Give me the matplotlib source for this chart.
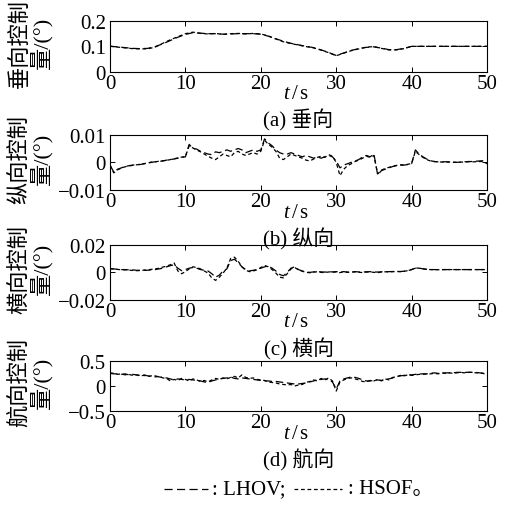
import numpy as np
import matplotlib
matplotlib.use("Agg")
import matplotlib.pyplot as plt
from matplotlib.lines import Line2D
from matplotlib.ticker import FixedLocator, FixedFormatter

# ---------------- data ----------------
t_a = np.arange(0, 51, 1.0)
t_fine = np.arange(0, 50.5, 0.5)

lhov_a = [0.100, 0.098, 0.095, 0.092, 0.091, 0.092, 0.099, 0.110, 0.123, 0.136,
          0.147, 0.154, 0.152, 0.150, 0.150, 0.148, 0.149, 0.150, 0.150, 0.150,
          0.148, 0.140, 0.130, 0.120, 0.112, 0.106, 0.100, 0.095, 0.086, 0.076,
          0.064, 0.074, 0.084, 0.091, 0.096, 0.098, 0.093, 0.087, 0.087, 0.092,
          0.100, 0.100, 0.100, 0.100, 0.100, 0.100, 0.100, 0.100, 0.100, 0.100, 0.100]
hsof_a = [0.101, 0.097, 0.094, 0.091, 0.090, 0.090, 0.097, 0.112, 0.126, 0.138,
          0.150, 0.156, 0.151, 0.149, 0.151, 0.147, 0.150, 0.151, 0.149, 0.151,
          0.149, 0.141, 0.129, 0.118, 0.111, 0.105, 0.099, 0.094, 0.085, 0.075,
          0.063, 0.073, 0.083, 0.090, 0.097, 0.099, 0.092, 0.086, 0.086, 0.091,
          0.100, 0.100, 0.100, 0.100, 0.100, 0.100, 0.100, 0.100, 0.100, 0.100, 0.100]

lhov_b = [-0.0010, -0.0035, -0.0025, -0.0020, -0.0015, -0.0012, -0.0010, -0.0008, -0.0008, -0.0005,
          -0.0003, 0.0000, 0.0002, 0.0003, 0.0005, 0.0008, 0.0010, 0.0012, 0.0015, 0.0018,
          0.0020, 0.0065, 0.0050, 0.0048, 0.0040, 0.0035, 0.0030, 0.0028, 0.0038, 0.0035,
          0.0040, 0.0045, 0.0040, 0.0045, 0.0050, 0.0045, 0.0035, 0.0040, 0.0045, 0.0040,
          0.0045, 0.0085, 0.0070, 0.0060, 0.0045, 0.0035, 0.0030, 0.0030, 0.0035, 0.0030,
          0.0025, 0.0020, 0.0025, 0.0020, 0.0015, 0.0020, 0.0015, 0.0020, 0.0025, 0.0020,
          0.0005, -0.0020, -0.0010, -0.0005, 0.0000, 0.0005, 0.0010, 0.0020, 0.0025, 0.0020,
          0.0030, -0.0045, -0.0030, -0.0025, -0.0020, -0.0015, -0.0012, -0.0010, -0.0010, -0.0008,
          -0.0005, 0.0045, 0.0030, 0.0020, 0.0012, 0.0006, 0.0003, 0.0002, 0.0002, 0.0002,
          0.0002, 0.0001, 0.0000, 0.0001, 0.0002, 0.0003, 0.0003, 0.0004, 0.0005, 0.0006,
          0.0008]
hsof_b = [-0.0010, -0.0038, -0.0027, -0.0021, -0.0016, -0.0013, -0.0011, -0.0009, -0.0007, -0.0005,
          -0.0002, 0.0001, 0.0002, 0.0004, 0.0006, 0.0007, 0.0010, 0.0013, 0.0016, 0.0019,
          0.0021, 0.0060, 0.0052, 0.0045, 0.0038, 0.0030, 0.0022, 0.0015, 0.0010, 0.0020,
          0.0030, 0.0025, 0.0020, 0.0035, 0.0040, 0.0030, 0.0025, 0.0030, 0.0035, 0.0030,
          0.0040, 0.0080, 0.0065, 0.0055, 0.0040, 0.0015, 0.0010, 0.0020, 0.0030, 0.0025,
          0.0020, 0.0015, 0.0008, 0.0005, 0.0012, 0.0018, 0.0022, 0.0018, 0.0028, 0.0022,
          0.0000, -0.0048, -0.0025, -0.0012, -0.0005, 0.0003, 0.0008, 0.0015, 0.0022, 0.0018,
          0.0025, -0.0042, -0.0028, -0.0022, -0.0018, -0.0014, -0.0011, -0.0009, -0.0009, -0.0007,
          -0.0004, 0.0040, 0.0028, 0.0018, 0.0010, 0.0005, 0.0003, 0.0002, 0.0001, 0.0001,
          0.0001, 0.0000, 0.0000, 0.0001, 0.0001, 0.0002, 0.0002, 0.0002, 0.0003, 0.0003,
          -0.0005]

lhov_c = [0.0025, 0.0025, 0.0022, 0.0020, 0.0020, 0.0018, 0.0018, 0.0015, 0.0015, 0.0015,
          0.0015, 0.0018, 0.0020, 0.0025, 0.0030, 0.0040, 0.0048, 0.0055, 0.0030, 0.0012,
          0.0020, 0.0030, 0.0035, 0.0030, 0.0020, 0.0015, 0.0010, -0.0010, -0.0035, -0.0020,
          0.0010, 0.0025, 0.0085, 0.0095, 0.0070, 0.0040, 0.0020, 0.0010, 0.0015, 0.0020,
          0.0030, 0.0040, 0.0045, 0.0030, 0.0010, -0.0015, -0.0025, 0.0000, 0.0030, 0.0040,
          0.0020, 0.0010, 0.0002, 0.0000, 0.0003, 0.0005, 0.0003, 0.0002, 0.0005, 0.0003,
          0.0005, 0.0003, 0.0005, 0.0002, 0.0003, 0.0005, 0.0003, 0.0002, 0.0004, 0.0005,
          0.0003, 0.0002, 0.0004, 0.0005, 0.0005, 0.0006, 0.0007, 0.0006, 0.0008, 0.0012,
          0.0020, 0.0030, 0.0030, 0.0026, 0.0022, 0.0020, 0.0020, 0.0020, 0.0020, 0.0020,
          0.0020, 0.0020, 0.0020, 0.0020, 0.0020, 0.0020, 0.0020, 0.0020, 0.0020, 0.0020,
          0.0020]
hsof_c = [0.0028, 0.0024, 0.0021, 0.0019, 0.0018, 0.0016, 0.0014, 0.0012, 0.0013, 0.0016,
          0.0018, 0.0022, 0.0025, 0.0030, 0.0038, 0.0045, 0.0055, 0.0068, 0.0010, -0.0010,
          0.0005, 0.0025, 0.0040, 0.0035, 0.0025, 0.0010, -0.0005, -0.0040, -0.0058, -0.0035,
          -0.0005, 0.0030, 0.0100, 0.0110, 0.0080, 0.0040, 0.0015, 0.0005, 0.0010, 0.0018,
          0.0035, 0.0050, 0.0040, 0.0020, -0.0005, -0.0035, -0.0040, -0.0010, 0.0025, 0.0035,
          0.0018, 0.0008, 0.0000, -0.0003, 0.0002, 0.0004, 0.0000, -0.0002, 0.0003, 0.0001,
          0.0003, -0.0002, 0.0004, 0.0000, 0.0002, 0.0003, 0.0000, -0.0001, 0.0002, 0.0003,
          0.0000, -0.0002, 0.0002, 0.0004, 0.0003, 0.0005, 0.0006, 0.0005, 0.0008, 0.0012,
          0.0020, 0.0032, 0.0030, 0.0025, 0.0021, 0.0020, 0.0020, 0.0019, 0.0020, 0.0020,
          0.0020, 0.0020, 0.0020, 0.0020, 0.0020, 0.0020, 0.0020, 0.0020, 0.0020, 0.0020,
          0.0020]

lhov_d = [0.25, 0.24, 0.24, 0.23, 0.24, 0.22, 0.23, 0.22, 0.21, 0.22,
          0.20, 0.19, 0.20, 0.18, 0.17, 0.16, 0.14, 0.12, 0.14, 0.13,
          0.12, 0.13, 0.12, 0.11, 0.10, 0.08, 0.07, 0.10, 0.12, 0.14,
          0.15, 0.16, 0.18, 0.15, 0.14, 0.16, 0.15, 0.14, 0.13, 0.12,
          0.11, 0.10, 0.10, 0.09, 0.09, 0.08, 0.07, 0.06, 0.05, 0.04,
          0.04, 0.05, 0.06, 0.08, 0.10, 0.12, 0.13, 0.14, 0.12, 0.08,
          -0.06, 0.10, 0.14, 0.16, 0.18, 0.17, 0.15, 0.12, 0.10, 0.10,
          0.11, 0.12, 0.11, 0.13, 0.14, 0.16, 0.19, 0.20, 0.21, 0.22,
          0.22, 0.23, 0.24, 0.24, 0.24, 0.25, 0.26, 0.25, 0.25, 0.26,
          0.26, 0.26, 0.27, 0.27, 0.27, 0.27, 0.27, 0.27, 0.26, 0.25,
          0.22]
hsof_d = [0.26, 0.25, 0.23, 0.24, 0.22, 0.23, 0.21, 0.22, 0.20, 0.21,
          0.19, 0.20, 0.18, 0.19, 0.16, 0.15, 0.10, 0.13, 0.11, 0.15,
          0.13, 0.10, 0.14, 0.12, 0.09, 0.11, 0.08, 0.12, 0.15, 0.13,
          0.16, 0.14, 0.17, 0.19, 0.16, 0.22, 0.17, 0.15, 0.16, 0.13,
          0.12, 0.11, 0.08, 0.07, 0.06, 0.04, 0.03, 0.02, 0.03, 0.00,
          0.02, 0.03, 0.07, 0.09, 0.12, 0.10, 0.15, 0.12, 0.16, 0.10,
          -0.10, 0.08, 0.12, 0.15, 0.16, 0.14, 0.12, 0.09, 0.08, 0.11,
          0.10, 0.13, 0.10, 0.14, 0.12, 0.17, 0.18, 0.21, 0.20, 0.22,
          0.21, 0.22, 0.23, 0.23, 0.24, 0.24, 0.25, 0.24, 0.26, 0.25,
          0.26, 0.25, 0.26, 0.27, 0.26, 0.27, 0.27, 0.26, 0.26, 0.25,
          0.21]

x_ticks = [0, 10, 20, 30, 40, 50]
x_ticklabels = ["0", "10", "20", "30", "40", "50"]
y_ticks = [[0, 0.1, 0.2], [-0.01, 0, 0.01], [-0.02, 0, 0.02], [-0.5, 0, 0.5]]
y_ticklabels = [["0", "0.1", "0.2"], ["\u22120.01", "0", "0.01"],
                ["\u22120.02", "0", "0.02"], ["\u22120.5", "0", "0.5"]]
y_labels = ["垂向控制\n量/(°)", "纵向控制\n量/(°)", "横向控制\n量/(°)", "航向控制\n量/(°)"]
captions = ["(a) 垂向", "(b) 纵向", "(c) 横向", "(d) 航向"]
series = [(t_a, lhov_a, hsof_a), (t_fine, lhov_b, hsof_b),
          (t_fine, lhov_c, hsof_c), (t_fine, lhov_d, hsof_d)]
legend_names = ["LHOV", "HSOF"]

# ---------------- style ----------------
plt.rcParams['font.family'] = ['Liberation Serif', 'Noto Sans CJK SC']
plt.rcParams['mathtext.fontset'] = 'custom'
plt.rcParams['mathtext.rm'] = 'Liberation Serif'
plt.rcParams['mathtext.it'] = 'Liberation Serif:italic'
FS = 15
W, H = 512, 506
fig = plt.figure(figsize=(W / 100, H / 100), dpi=100)

# axes pixel boxes: (top, bottom)
boxes = [(22, 72.7), (135.7, 191), (245.7, 301), (361.7, 412.3)]
left_px, right_px = 110, 487
fam = ['Liberation Serif', 'Noto Sans CJK SC']

lw = 0.9
ls_lhov = (0, (6, 3))
ls_hsof = (0, (3, 2.2))
for i, (top, bot) in enumerate(boxes):
    ax = fig.add_axes([left_px / W, 1 - bot / H, (right_px - left_px) / W, (bot - top) / H])
    t, l, h = series[i]
    ax.plot(t, l, color='black', lw=lw, linestyle=ls_lhov)
    ax.plot(t, h, color='black', lw=lw, linestyle=ls_hsof)
    ax.set_xlim(0, 50)
    ax.set_ylim(y_ticks[i][0], y_ticks[i][-1])
    ax.xaxis.set_major_locator(FixedLocator(x_ticks))
    ax.xaxis.set_major_formatter(FixedFormatter(x_ticklabels))
    ax.yaxis.set_major_locator(FixedLocator(y_ticks[i]))
    ax.yaxis.set_major_formatter(FixedFormatter(y_ticklabels[i]))
    ax.tick_params(direction='in', length=3.5, width=0.7, top=True, right=True,
                   labelsize=FS)
    ax.tick_params(axis='x', pad=1.5)
    ax.tick_params(axis='y', pad=3.0)
    for s in ax.spines.values():
        s.set_linewidth(0.8)
    cx = (left_px + right_px) / 2 / W
    fig.text(cx - 0.005, 1 - (bot + 22) / H, r"$t\,$/$\,$s", ha='center', va='center', fontsize=FS)
    fig.text(cx, 1 - (bot + 48) / H, captions[i], ha='center', va='center', fontsize=FS)
    fig.text(31 / W, 1 - ((top + bot) / 2 - 4) / H, y_labels[i], rotation=90,
             ha='center', va='center', fontsize=16, linespacing=0.95, family=fam)

# ---------------- legend line ----------------
ly = 1 - 490 / H
fig.add_artist(Line2D([164 / W, 208 / W], [ly, ly], color='black', lw=lw,
                      linestyle=(0, (6.5, 3.5))))
fig.text(212 / W, ly, ": " + legend_names[0] + ";", ha='left', va='center', fontsize=FS)
fig.add_artist(Line2D([294 / W, 342 / W], [ly, ly], color='black', lw=lw,
                      linestyle=(0, (3, 2.2))))
fig.text(348 / W, ly, ": " + legend_names[1] + "。", ha='left', va='center', fontsize=FS)

fig.savefig("out.png", dpi=100)
